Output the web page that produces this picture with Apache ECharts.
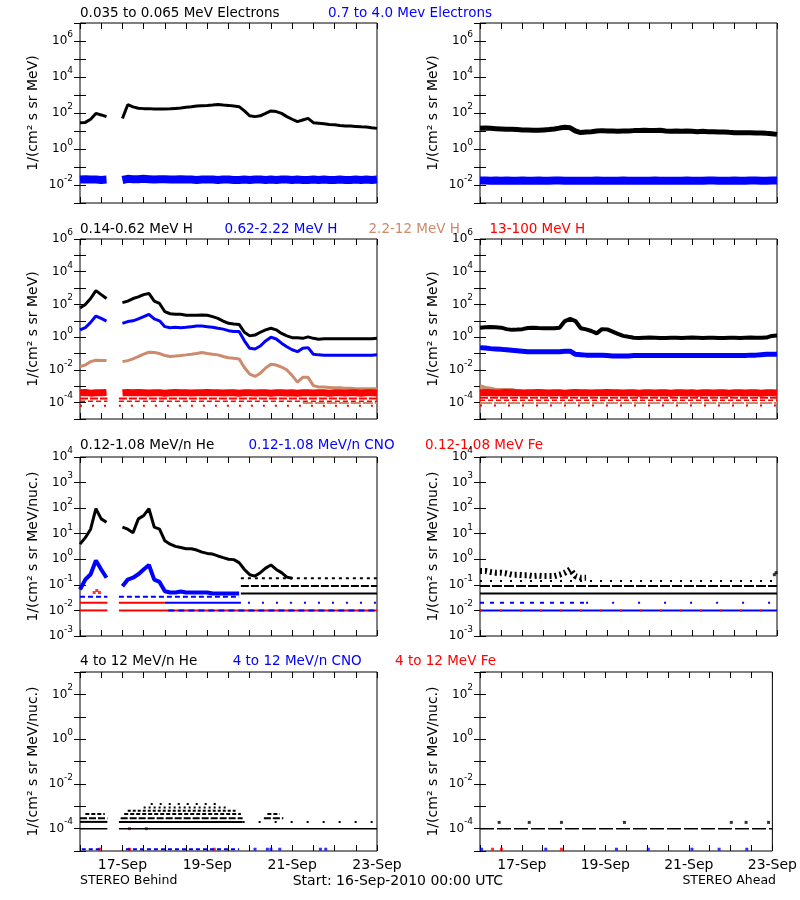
<!DOCTYPE html>
<html><head><meta charset="utf-8">
<script src="https://cdn.jsdelivr.net/npm/echarts@6/dist/echarts.min.js"></script>
<style>html,body{margin:0;padding:0;background:#fff}#c{width:800px;height:900px}</style>
</head><body><div id="c"></div>
<script>
// ---------------- DATA ----------------
const STEP_H = 3; // hours between samples, from 16-Sep-2010 00:00 UTC
const X_TICK_HOURS = [24, 72, 120, 168];
const X_TICK_LABELS = ['17-Sep', '19-Sep', '21-Sep', '23-Sep'];

// Row 1: electrons (Behind / Ahead)
const eLowBehind = [29,30,45,95,78,63,null,null,50,290,220,185,175,175,165,165,165,170,180,190,210,225,245,255,265,280,300,280,265,245,225,130,70,63,70,95,130,120,95,63,45,33,41,50,29,27,25,23,22,20,19,19,18,17,16.5,15,14];
const eHighBehind = [0.02,0.021,0.02,0.02,0.019,0.02,null,null,0.019,0.022,0.021,0.021,0.022,0.021,0.02,0.021,0.021,0.02,0.02,0.021,0.02,0.02,0.019,0.02,0.02,0.02,0.019,0.02,0.02,0.019,0.019,0.02,0.019,0.02,0.02,0.019,0.02,0.019,0.02,0.02,0.019,0.02,0.019,0.019,0.02,0.019,0.02,0.019,0.019,0.02,0.019,0.019,0.02,0.019,0.02,0.019,0.02];
const eLowAhead = [14,14.5,14,13.5,13,12.5,12.5,12,11.5,11.5,11,11,11.5,12,13,14.5,16,15,10,8.2,8.8,9.2,10,10.5,10,10,9.6,10,10,10.5,10.5,11,10.5,10.5,11,10,9.6,10,9.6,10,9.6,9.2,9.6,9.2,9.2,8.8,8.8,8.4,8.1,8.1,8.1,8.1,7.8,7.8,7.4,7.1,6.5];
const eHighAhead = [0.018,0.018,0.017,0.018,0.017,0.018,0.017,0.017,0.018,0.017,0.017,0.018,0.017,0.017,0.018,0.018,0.017,0.017,0.017,0.017,0.017,0.017,0.018,0.017,0.017,0.017,0.017,0.018,0.017,0.017,0.017,0.017,0.017,0.018,0.017,0.017,0.017,0.017,0.017,0.018,0.017,0.017,0.017,0.018,0.018,0.017,0.017,0.017,0.018,0.017,0.017,0.018,0.018,0.017,0.017,0.018,0.018];

// Row 2: protons
const p1Behind = [60,100,230,700,400,230,null,null,130,160,230,290,400,470,160,115,36,27,25,25,22,22,22,23,22,18,14,9.7,7,6.3,6,2,1.2,1.35,2,2.8,3.5,2.8,1.7,1.2,0.93,0.93,0.85,1.05,0.85,0.75,0.8,0.8,0.8,0.8,0.8,0.8,0.8,0.8,0.8,0.8,0.85];
const p2Behind = [2.8,3.8,8,19.5,14,9.7,null,null,7,9,10,13,18,25,13,10,4.4,3.8,4,3.8,4,4.4,4.8,4.8,4.4,4,3.5,3.1,2.5,2.2,2.2,0.6,0.21,0.19,0.29,0.59,1.0,0.77,0.43,0.26,0.17,0.13,0.21,0.23,0.091,0.083,0.08,0.08,0.08,0.08,0.08,0.08,0.08,0.08,0.08,0.08,0.085];
const p3Behind = [0.016,0.02,0.032,0.039,0.037,0.037,null,null,0.032,0.037,0.047,0.066,0.091,0.12,0.115,0.1,0.076,0.066,0.07,0.076,0.083,0.091,0.1,0.115,0.1,0.091,0.083,0.066,0.056,0.051,0.047,0.014,0.0055,0.004,0.0063,0.013,0.022,0.02,0.015,0.01,0.0045,0.0018,0.0035,0.0035,0.0011,0.0009,0.0009,0.00085,0.0008,0.0008,0.00075,0.00075,0.0007,0.0007,0.0007,0.0007,0.0007];
const p4Behind = [0.0004,0.00042,0.00038,0.0004,0.0004,0.00042,null,null,0.0004,0.00042,0.0004,0.00041,0.0004,0.00039,0.0004,0.0004,0.00038,0.0004,0.00041,0.0004,0.0004,0.00039,0.0004,0.0004,0.00042,0.0004,0.0004,0.00039,0.0004,0.0004,0.00038,0.0004,0.0004,0.00039,0.0004,0.0004,0.00038,0.0004,0.0004,0.00039,0.0004,0.00038,0.0004,0.0004,0.00039,0.0004,0.0004,0.00038,0.0004,0.0004,0.00039,0.0004,0.0004,0.00038,0.0004,0.0004,0.00039];
const p1Ahead = [3.8,4.0,4.2,4.0,3.8,3.1,2.8,2.9,3.1,3.6,3.8,3.6,3.5,3.5,3.5,3.8,9.7,13,9.7,3.5,3.0,2.4,1.7,3.1,3.0,2.2,1.6,1.2,1.05,0.93,0.9,0.93,0.95,0.93,0.9,0.9,0.93,0.93,0.9,0.93,0.95,0.93,0.9,0.93,0.93,0.9,0.9,0.93,0.93,0.9,0.93,0.95,0.93,0.93,0.95,1.2,1.25];
const p2Ahead = [0.23,0.22,0.2,0.19,0.18,0.17,0.16,0.15,0.14,0.13,0.13,0.13,0.13,0.13,0.13,0.13,0.14,0.14,0.09,0.085,0.08,0.08,0.078,0.078,0.075,0.072,0.07,0.07,0.072,0.075,0.075,0.075,0.075,0.075,0.075,0.075,0.075,0.075,0.075,0.075,0.075,0.075,0.075,0.075,0.075,0.075,0.075,0.075,0.075,0.075,0.075,0.08,0.08,0.085,0.09,0.09,0.09];
const p3Ahead = [0.001,0.0008,0.0007,0.0006,0.0006,0.0006,0.0006,0.0005,0.0005,null,null,null,null,null,null,null,null,null,null,null,null,null,null,null,null,null,null,null,null,null,null,null,null,null,null,null,null,null,null,null,null,null,null,null,null,null,null,null,null,null,null,null,null,null,null,null,null];
const p4Ahead = [0.0004,0.00041,0.0004,0.00039,0.0004,0.00042,0.0004,0.0004,0.00039,0.0004,0.0004,0.00041,0.0004,0.00039,0.0004,0.0004,0.00038,0.0004,0.00041,0.0004,0.0004,0.00039,0.0004,0.0004,0.00042,0.0004,0.0004,0.00039,0.0004,0.0004,0.00038,0.0004,0.0004,0.00039,0.0004,0.0004,0.00038,0.0004,0.0004,0.00039,0.0004,0.00038,0.0004,0.0004,0.00039,0.0004,0.0004,0.00038,0.0004,0.0004,0.00039,0.0004,0.0004,0.00038,0.0004,0.0004,0.00039];
// quantisation floors: [startHour, endHour, value]
const p4BehindFloorA = [[0,15.5,1.8e-4],[22,168,1.8e-4]];
const p4BehindFloorB = [[0,15.5,1.2e-4],[22,168,1.2e-4]];
const p4BehindFloorC = [[0,15.5,6.5e-5],[22,168,6.5e-5]];
const p3BehindFloor = [[126,168,9.5e-5]];
const p4AheadFloorA = [[0,168,2.0e-4]];
const p4AheadFloorB = [[0,168,1.4e-4]];
const p4AheadFloorC = [[0,168,6.8e-5]];
const p3AheadFloor = [[0,168,9.5e-5]];

// Row 3: 0.12-1.08 MeV/n ions
const heBehind = [3.9,7,15,95,38,28,null,null,18,15,11,38,51,95,18,15,5.3,3.9,3.2,2.9,2.6,2.6,2.3,1.9,1.7,1.6,1.35,1.16,1.0,0.97,0.74,0.4,0.25,0.22,0.3,0.45,0.6,0.4,0.3,0.2,0.18,null,null,null,null,null,null,null,null,null,null,null,null,null,null,null,null];
const cnoBehind = [0.066,0.16,0.26,0.9,0.4,0.19,null,null,0.089,0.16,0.19,0.26,0.4,0.6,0.16,0.13,0.056,0.05,0.05,0.055,0.05,0.05,0.05,0.05,0.05,0.046,0.046,0.046,0.046,0.046,0.046,null,null,null,null,null,null,null,null,null,null,null,null,null,null,null,null,null,null,null,null,null,null,null,null,null,null];
const heBehindFloorHigh = [[91,168,0.18]];
const heBehindFloorMid = [[91,168,0.09]];
const heBehindFloorLow = [[91,168,0.046]];
const cnoBehindFloorA = [[0,15.5,0.034],[22,90,0.034]];
const cnoBehindFloorB = [[48,91,0.02]];
const cnoBehindFloorC = [[95,168,0.02]];
const cnoBehindFloorD = [[50,168,0.01]];
const feBehindFloorA = [[0,15.5,0.02],[22,48,0.02]];
const feBehindFloorB = [[0,15.5,0.01],[22,168,0.01]];
const feBehindSpikes = [[8,0.05],[9.5,0.06],[11,0.05]];
const heAhead = [0.35,0.35,0.32,0.3,0.3,0.28,0.25,0.25,0.24,0.24,0.22,0.23,0.22,0.22,0.22,0.25,0.3,0.4,0.22,0.19,0.19,null,null,null,null,null,null,null,null,null,null,null,null,null,null,null,null,null,null,null,null,null,null,null,null,null,null,null,null,null,null,null,null,null,null,null,null];
const heAheadFloorHigh = [[0,168,0.14]];
const heAheadFloorMid = [[0,168,0.09]];
const heAheadFloorLow = [[0,168,0.046]];
const heAheadSpikes = [[166.5,0.25],[167.5,0.3]];
const cnoAheadFloorA = [[0,60,0.02]];
const cnoAheadFloorB = [[60,168,0.02]];
const cnoAheadFloorC = [[0,168,0.01]];
const feAheadFloor = [[0,168,0.01]];

// Row 4: 4-12 MeV/n ions (count-quantised rows)
const he4BehindRowA = [[0,15.5,2.9e-4],[23,92,2.9e-4],[104,115,2.9e-4]];
const he4BehindRowB = [[3,14,4.5e-4],[25,91,4.5e-4],[106,113,4.5e-4]];
const he4BehindRowC = [[27,88,6.3e-4]];
const he4BehindRowD = [[36,84,8.9e-4]];
const he4BehindRowE = [[40,78,1.26e-3]];
const he4BehindFloorA = [[0,15.5,2.0e-4],[22,92,2.0e-4]];
const he4BehindFloorB = [[92,168,2.0e-4]];
const he4BehindFloorC = [[0,15.5,1e-4],[22,168,1e-4]];
const cno4BehindFloor = [[1,12,1.2e-5],[26,90,1.2e-5]];
const cno4BehindSpikeHours = [99,106,108,113,136,139];
const fe4BehindSpikes = [[11,1.2e-5],[28,1.2e-5],[76,1.2e-5],[28,1e-4],[37.5,1e-4]];
const he4AheadFloor = [[0,168,1e-4]];
const he4AheadSpikeHours = [11,28.3,46.8,83,144.4,152.9,165.8];
const cno4AheadSpikeHours = [0.9,37.8,78.4,96.7,121.8,137.4,153.3];
const fe4AheadSpikeHours = [7.2,12.3,46.8];
const HE4_SPIKE_LEVEL = 1.9e-4;
const LOW_SPIKE_LEVEL = 1.2e-5;

// Texts
const Y_NAMES = ['1/(cm² s sr MeV)', '1/(cm² s sr MeV)', '1/(cm² s sr MeV/nuc.)', '1/(cm² s sr MeV/nuc.)'];
const TITLE_TEXTS = [
  ['0.035 to 0.065 MeV Electrons', '0.7 to 4.0 Mev Electrons'],
  ['0.14-0.62 MeV H', '0.62-2.22 MeV H', '2.2-12 MeV H', '13-100 MeV H'],
  ['0.12-1.08 MeV/n He', '0.12-1.08 MeV/n CNO', '0.12-1.08 MeV Fe'],
  ['4 to 12 MeV/n He', '4 to 12 MeV/n CNO', '4 to 12 MeV Fe']
];
const FOOTER_TEXTS = ['STEREO Behind', 'Start: 16-Sep-2010 00:00 UTC', 'STEREO Ahead'];

// ---------------- LAYOUT / STYLE ----------------
const FONT = 'DejaVu Sans';
const BLACK = '#000000', BLUE = '#0000ff', TAN = '#cd8a6c', RED = '#ff0000';
const COL_LEFT = [80, 480];
const PLOT_W = 297;
const ROW_BOX = [[23, 180], [239, 180], [457, 179], [672, 179]];
const Y_EXT = [[1e-3, 1e7], [1e-5, 1e6], [1e-3, 1e4], [1e-5, 1e3]];
const Y_LABEL_EVERY = [2, 2, 1, 2];
const TITLE_Y = [13, 229, 445, 661];
const TITLE_X = [[80, 328], [80, 224.5, 368.5, 489.5], [80, 248.5, 425], [80, 232.7, 395]];
const TITLE_COL = [[BLACK, BLUE], [BLACK, BLUE, TAN, RED], [BLACK, BLUE, RED], [BLACK, BLUE, RED]];

const grids = [], xAxes = [], yAxes = [], series = [];
const tickStyle = {show: true, inside: true, length: 6, lineStyle: {color: '#000', width: 1}};
for (let r = 0; r < 4; r++) {
  for (let c = 0; c < 2; c++) {
    const g = r * 2 + c;
    grids.push({left: COL_LEFT[c], top: ROW_BOX[r][0], width: PLOT_W, height: ROW_BOX[r][1],
      show: true, borderColor: '#000', borderWidth: 1, backgroundColor: 'transparent'});
    const xb = {type: 'value', gridIndex: g, min: 0, max: 168, interval: 12,
      axisLine: {show: false}, splitLine: {show: false}, axisTick: tickStyle};
    xAxes.push(Object.assign({}, xb, {position: 'bottom', axisLabel: {show: r === 3,
      formatter: v => { const k = X_TICK_HOURS.indexOf(Math.round(v)); return k >= 0 ? X_TICK_LABELS[k] : ''; },
      showMinLabel: true, showMaxLabel: true, color: '#000', fontFamily: FONT, fontSize: 14, margin: 7}}));
    xAxes.push(Object.assign({}, xb, {position: 'top', axisLabel: {show: false}}));
    const every = Y_LABEL_EVERY[r];
    const yb = {type: 'log', logBase: 10, gridIndex: g, min: Y_EXT[r][0], max: Y_EXT[r][1], interval: 1,
      axisLine: {show: false}, splitLine: {show: false}, minorTick: {show: false}, axisTick: tickStyle};
    yAxes.push(Object.assign({}, yb, {position: 'left',
      name: Y_NAMES[r], nameLocation: 'middle', nameGap: 40, nameRotate: 90,
      nameTextStyle: {fontFamily: FONT, fontSize: 14, color: '#000'},
      axisLabel: {show: true, margin: 7, showMinLabel: true, showMaxLabel: true,
        formatter: v => { const e = Math.round(Math.log10(v)); return (e % every === 0) ? '{b|10}{s|' + e + '}' : ''; },
        rich: {b: {fontFamily: FONT, fontSize: 12, lineHeight: 22, color: '#000'},
               s: {fontFamily: FONT, fontSize: 9, lineHeight: 9, verticalAlign: 'top', color: '#000'}}}}));
    yAxes.push(Object.assign({}, yb, {position: 'right', axisLabel: {show: false}}));
  }
}

function addLine(g, data, color, width, dash) {
  series.push({type: 'line', xAxisIndex: 2 * g, yAxisIndex: 2 * g, data: data, symbol: 'none', showSymbol: false,
    connectNulls: false, clip: true, silent: true, animation: false,
    lineStyle: {color: color, width: width, type: dash || 'solid', cap: 'butt'}, itemStyle: {color: color}});
}
function addSampled(g, arr, color, width, dash) { addLine(g, arr.map((v, i) => [i * STEP_H, v]), color, width, dash); }
function addSegments(g, segs, color, width, dash) { segs.forEach(s => addLine(g, [[s[0], s[2]], [s[1], s[2]]], color, width, dash)); }
function addDots(g, pts, color, size) {
  series.push({type: 'scatter', xAxisIndex: 2 * g, yAxisIndex: 2 * g, data: pts, symbol: 'rect', symbolSize: size || 3,
    itemStyle: {color: color}, silent: true, animation: false, clip: true});
}

// Row 1
addSampled(0, eLowBehind, BLACK, 3);
addSampled(0, eHighBehind, BLUE, 8);
addSampled(1, eLowAhead, BLACK, 5);
addSampled(1, eHighAhead, BLUE, 8);
// Row 2
addSampled(2, p1Behind, BLACK, 3);
addSampled(2, p2Behind, BLUE, 3);
addSegments(2, p3BehindFloor, TAN, 2, [10, 2]);
addSampled(2, p3Behind, TAN, 3);
addSampled(2, p4Behind, RED, 7);
addSegments(2, p4BehindFloorA, RED, 2, [8, 2]);
addSegments(2, p4BehindFloorB, RED, 1.5, [5, 3]);
addSegments(2, p4BehindFloorC, RED, 2, [2, 10]);
addSampled(3, p1Ahead, BLACK, 4);
addSampled(3, p2Ahead, BLUE, 5);
addSegments(3, p3AheadFloor, TAN, 2, [12, 2]);
addSampled(3, p3Ahead, TAN, 4);
addSampled(3, p4Ahead, RED, 7);
addSegments(3, p4AheadFloorA, RED, 2, [8, 2]);
addSegments(3, p4AheadFloorB, RED, 1.5, [5, 3]);
addSegments(3, p4AheadFloorC, RED, 2, [2, 12]);
// Row 3
addSampled(4, heBehind, BLACK, 3);
addSegments(4, heBehindFloorHigh, BLACK, 2, [3, 4]);
addSegments(4, heBehindFloorMid, BLACK, 2, [8, 2]);
addSegments(4, heBehindFloorLow, BLACK, 2);
addSampled(4, cnoBehind, BLUE, 4);
addSegments(4, cnoBehindFloorA, BLUE, 2, [5, 3]);
addSegments(4, cnoBehindFloorB, BLUE, 2);
addSegments(4, cnoBehindFloorC, BLUE, 2, [2, 12]);
addSegments(4, feBehindFloorA, RED, 2);
addSegments(4, feBehindFloorB, RED, 2);
addSegments(4, cnoBehindFloorD, BLUE, 2, [6, 4]);
addDots(4, feBehindSpikes, RED, 3);
addSampled(5, heAhead, BLACK, 6, [2, 3]);
addSegments(5, heAheadFloorHigh, BLACK, 2, [2, 8]);
addSegments(5, heAheadFloorMid, BLACK, 2, [10, 2]);
addSegments(5, heAheadFloorLow, BLACK, 2);
addDots(5, heAheadSpikes, BLACK, 3);
addSegments(5, cnoAheadFloorA, BLUE, 2, [4, 6]);
addSegments(5, cnoAheadFloorB, BLUE, 2, [2, 24]);
addSegments(5, cnoAheadFloorC, BLUE, 2);
addSegments(5, feAheadFloor, RED, 2, [2, 18]);
// Row 4
addSegments(6, he4BehindRowA, BLACK, 2, [7, 2]);
addSegments(6, he4BehindRowB, BLACK, 2, [4, 2]);
addSegments(6, he4BehindRowC, BLACK, 2, [3, 2]);
addSegments(6, he4BehindRowD, BLACK, 2, [2, 3]);
addSegments(6, he4BehindRowE, BLACK, 2, [2, 7]);
addSegments(6, he4BehindFloorA, BLACK, 2);
addSegments(6, he4BehindFloorB, BLACK, 2, [2, 14]);
addSegments(6, he4BehindFloorC, BLACK, 1.5);
addSegments(6, cno4BehindFloor, BLUE, 2, [4, 3]);
addDots(6, cno4BehindSpikeHours.map(h => [h, LOW_SPIKE_LEVEL]), BLUE, 3);
addDots(6, fe4BehindSpikes, RED, 3);
addSegments(7, he4AheadFloor, BLACK, 1.5, [14, 3]);
addDots(7, he4AheadSpikeHours.map(h => [h, HE4_SPIKE_LEVEL]), BLACK, 3);
addDots(7, cno4AheadSpikeHours.map(h => [h, LOW_SPIKE_LEVEL]), BLUE, 3);
addDots(7, fe4AheadSpikeHours.map(h => [h, LOW_SPIKE_LEVEL]), RED, 3);

// Titles and footer as text graphics
const graphics = [];
function txt(x, y, text, color, size, align) {
  graphics.push({type: 'text', x: x, y: y, silent: true, style: {text: text, fill: color,
    font: size + 'px "' + FONT + '"', textAlign: align || 'left', textVerticalAlign: 'middle',
    align: align || 'left', verticalAlign: 'middle'}});
}
TITLE_TEXTS.forEach((row, r) => row.forEach((t, k) => txt(TITLE_X[r][k], TITLE_Y[r], t, TITLE_COL[r][k], 13.5)));
txt(80, 881, FOOTER_TEXTS[0], BLACK, 12.5);
txt(292.7, 881, FOOTER_TEXTS[1], BLACK, 14);
txt(776, 881, FOOTER_TEXTS[2], BLACK, 12.5, 'right');

const chart = echarts.init(document.getElementById('c'), null, {renderer: 'canvas'});
chart.setOption({animation: false, backgroundColor: '#fff', grid: grids, xAxis: xAxes, yAxis: yAxes,
  series: series, graphic: graphics});
</script></body></html>
